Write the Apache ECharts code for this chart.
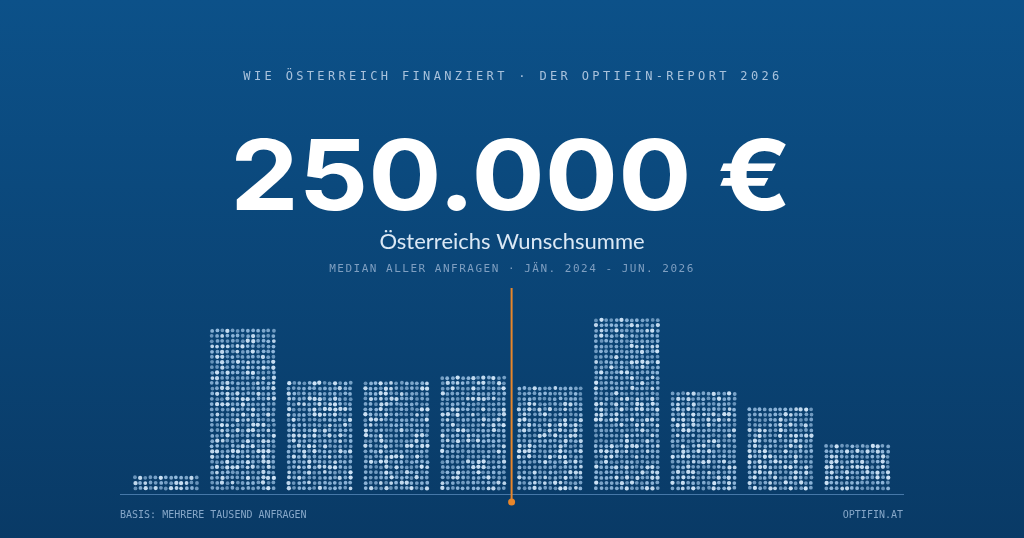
<!DOCTYPE html>
<html lang="de">
<head>
<meta charset="utf-8">
<title>Wie Österreich finanziert · Wunschsumme</title>
<script src="https://cdn.jsdelivr.net/npm/echarts@6/dist/echarts.min.js"></script>
<style>
  html, body { margin: 0; padding: 0; width: 1024px; height: 538px; overflow: hidden; background: #0a4577; }
  #wrap { position: relative; width: 1024px; height: 538px; }
  #chart { position: absolute; left: 0; top: 0; width: 1024px; height: 538px; }
  .spaced { position: absolute; left: 0; width: 1024px; text-align: center; font-family: "DejaVu Sans Mono", "Liberation Mono", monospace; white-space: nowrap; pointer-events: none; }
  #kicker { top: 68px; font-size: 12px; line-height: 16px; letter-spacing: 3.35px; color: #a9c2dc; padding-left: 1px; }
  #period { top: 262px; font-size: 11px; line-height: 14px; letter-spacing: 1.5px; color: #7f9fc1; padding-left: 0px; }
</style>
</head>
<body>
<div id="wrap">
  <div id="chart"></div>
  <div id="kicker" class="spaced">WIE ÖSTERREICH FINANZIERT · DER OPTIFIN-REPORT 2026</div>
  <div id="period" class="spaced">MEDIAN ALLER ANFRAGEN · JÄN. 2024 - JUN. 2026</div>
</div>
<script>
// ---- data ----
const categories = ['Klasse 1', 'Klasse 2', 'Klasse 3', 'Klasse 4', 'Klasse 5',
                    'Klasse 6', 'Klasse 7', 'Klasse 8', 'Klasse 9', 'Klasse 10'];
const shares = [1.5, 16.0, 10.5, 10.5, 11.4, 10.4, 16.9, 9.9, 8.4, 4.5]; // % of requests
const medianLabel = '250.000 €';
const medianAfterIndex = 4;   // median lies at the upper edge of class 5
const headline = 'Österreichs Wunschsumme';
const footLeft = 'BASIS: MEHRERE TAUSEND ANFRAGEN';
const footRight = 'OPTIFIN.AT';

// ---- styling helpers (deterministic shading of dots; style only) ----
function shade(i, r, c) {
  const s = Math.sin(i * 127.1 + r * 311.7 + c * 74.7) * 43758.5453;
  return s - Math.floor(s);
}

const chart = echarts.init(document.getElementById('chart'), null, { renderer: 'canvas' });

const DOT_R = 1.9;
const PITCH = 5.25;
const COLS = 13;

function renderDots(params, api) {
  const i = api.value(0);
  const v = api.value(1);
  const top = api.coord([i, v]);
  const base = api.coord([i, 0]);
  const band = api.size([1, 0])[0];
  const w = band * 0.85;
  const x0 = top[0] - w / 2;
  const h = base[1] - top[1];
  const rows = Math.max(1, Math.round(h / PITCH));
  const colStep = (w - 2 * DOT_R) / (COLS - 1);
  const children = [];
  for (let r = 0; r < rows; r++) {
    for (let c = 0; c < COLS; c++) {
      const t = shade(i, r, c);
      const t2 = shade(i + 3, c, r);
      const jx = (t2 - 0.5) * 0.8;
      const jy = (shade(i + 7, r + 1, c + 2) - 0.5) * 0.8;
      children.push({
        type: 'circle',
        shape: {
          cx: x0 + DOT_R + c * colStep + jx,
          cy: base[1] - DOT_R - r * PITCH + jy,
          r: DOT_R + (t > 0.8 ? 0.25 : 0)
        },
        style: {
          fill: t > 0.75 ? '#cfe4f7' : '#a3c8ea',
          opacity: 0.6 + 0.4 * t
        },
        silent: true
      });
    }
  }
  return { type: 'group', children: children };
}

chart.setOption({
  backgroundColor: {
    type: 'linear', x: 0, y: 0, x2: 0, y2: 1,
    colorStops: [
      { offset: 0, color: '#0c5189' },
      { offset: 1, color: '#093a66' }
    ]
  },
  animation: false,
  grid: { left: 127.6, right: 128.4, top: 285, bottom: 48 },
  xAxis: {
    type: 'category',
    data: categories,
    axisLine: { show: false },
    axisTick: { show: false },
    axisLabel: { show: false },
    splitLine: { show: false }
  },
  yAxis: {
    type: 'value',
    min: 0, max: 20,
    show: false
  },
  series: [{
    type: 'custom',
    renderItem: renderDots,
    data: shares.map((v, i) => [i, v]),
    silent: true
  }]
});

// fit the headline number into the box it occupies in the reference
const BIG_FONT = '700 100px Inter, "Noto Sans", sans-serif';
const box = { left: 236, right: 786, top: 138, bottom: 211 };
const mctx = document.createElement('canvas').getContext('2d');
mctx.font = BIG_FONT;
mctx.textBaseline = 'middle';
const mDigits = mctx.measureText('250.000');
const mAll = mctx.measureText(medianLabel);
const glyphW = mAll.actualBoundingBoxLeft + mAll.actualBoundingBoxRight;
const sx = (box.right - box.left) / glyphW;
const sy = (box.bottom - box.top) / (mDigits.actualBoundingBoxAscent + mDigits.actualBoundingBoxDescent);
const bigY = box.top + mDigits.actualBoundingBoxAscent * sy;

// decorations positioned through the chart's own scales
const xLeft = chart.convertToPixel({ xAxisIndex: 0 }, 0);
const xNext = chart.convertToPixel({ xAxisIndex: 0 }, 1);
const band = xNext - xLeft;
const xMedian = chart.convertToPixel({ xAxisIndex: 0 }, medianAfterIndex) + band / 2;
const yBase = chart.convertToPixel({ yAxisIndex: 0 }, 0);
const yTopGrid = chart.convertToPixel({ yAxisIndex: 0 }, 20);

chart.setOption({
  graphic: [
    {
      type: 'text', x: (box.left + box.right) / 2, y: bigY, scaleX: sx, scaleY: sy, silent: true,
      style: {
        text: medianLabel, fill: '#ffffff',
        font: BIG_FONT,
        textAlign: 'center', textVerticalAlign: 'middle'
      }
    },
    {
      type: 'text', x: 512, y: 242, silent: true,
      style: {
        text: headline, fill: '#dbe8f5',
        font: '400 22px Lato, "Noto Sans", sans-serif',
        textAlign: 'center', textVerticalAlign: 'middle'
      }
    },
    {
      type: 'line', silent: true, z: 10,
      shape: { x1: 120, y1: yBase + 4.5, x2: 904, y2: yBase + 4.5 },
      style: { stroke: 'rgba(120,170,220,0.55)', lineWidth: 1 }
    },
    {
      type: 'line', silent: true, z: 20,
      shape: { x1: xMedian, y1: yTopGrid + 3, x2: xMedian, y2: yBase + 12 },
      style: { stroke: '#e8862a', lineWidth: 2 }
    },
    {
      type: 'circle', silent: true, z: 21,
      shape: { cx: xMedian, cy: yBase + 12, r: 3.5 },
      style: { fill: '#e8862a' }
    },
    {
      type: 'text', left: 120, top: 510, silent: true,
      style: { text: footLeft, font: '10px "DejaVu Sans Mono", monospace', fill: '#86a7c8' }
    },
    {
      type: 'text', right: 121, top: 510, silent: true,
      style: { text: footRight, font: '10px "DejaVu Sans Mono", monospace', fill: '#86a7c8' }
    }
  ]
});
</script>
</body>
</html>
